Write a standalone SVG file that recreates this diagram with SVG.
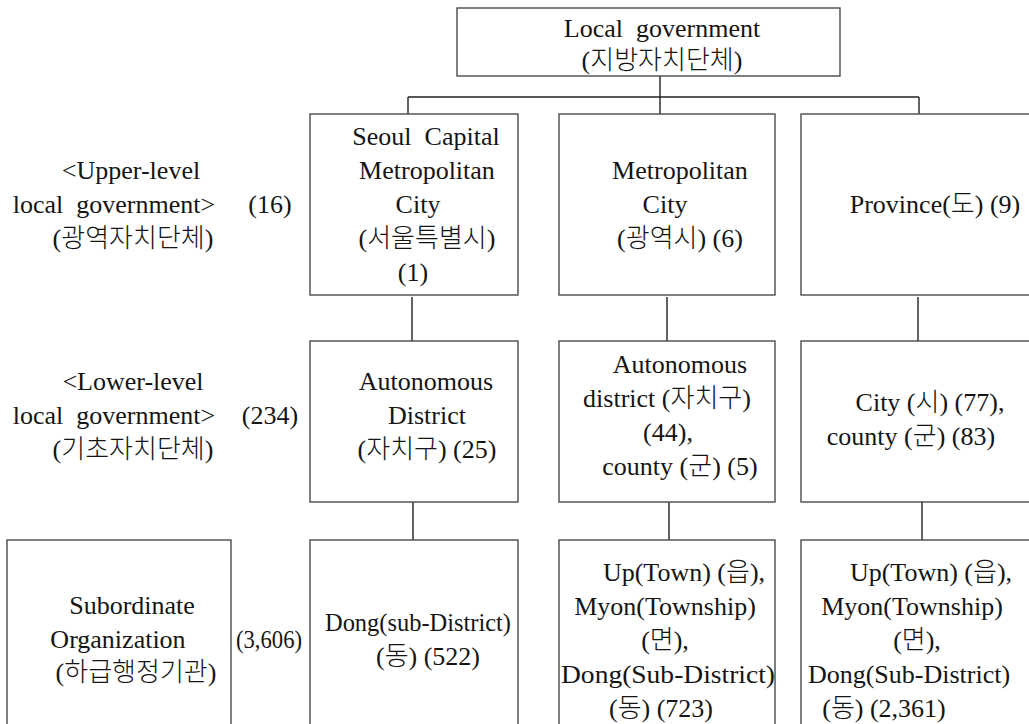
<svg xmlns="http://www.w3.org/2000/svg" width="1029" height="724" viewBox="0 0 1029 724">
<style>
.box{fill:#fff;stroke:#4a4a4a;stroke-width:1.4}
.ln{stroke:#222;stroke-width:1.4;fill:none}
text{font-family:"Liberation Serif","Noto Sans CJK KR",serif;font-size:26px;font-weight:300;fill:#151515;text-anchor:middle;white-space:pre}
</style>
<rect width="1029" height="724" fill="#fff"/>
<g id="connectors">
<path class="ln" d="M660,76V114M408,97H919M408,97V114M919,97V114M412,297V341M667,297V341M918,297V341M413,502V540M669,502V540M922,502V540"/>
</g>
<g id="local-government">
<rect class="box" x="457" y="8" width="383" height="68"/>
<text x="662" y="37" xml:space="preserve">Local  government</text>
<text x="662" y="69">(지방자치단체)</text>
</g>
<g id="upper-label">
<text x="131" y="179">&lt;Upper-level</text>
<text x="114" y="213" xml:space="preserve">local  government&gt;</text>
<text x="270" y="213">(16)</text>
<text x="133" y="247">(광역자치단체)</text>
</g>
<g id="seoul">
<rect class="box" x="310" y="114" width="208" height="181"/>
<text x="426" y="145" xml:space="preserve">Seoul  Capital</text>
<text x="427" y="179">Metropolitan</text>
<text x="418" y="213">City</text>
<text x="427" y="247">(서울특별시)</text>
<text x="413" y="281">(1)</text>
</g>
<g id="metro">
<rect class="box" x="559" y="114" width="216" height="181"/>
<text x="680" y="179">Metropolitan</text>
<text x="665" y="213">City</text>
<text x="680" y="247">(광역시) (6)</text>
</g>
<g id="province">
<rect class="box" x="801" y="114" width="240" height="181"/>
<text x="935" y="213">Province(도) (9)</text>
</g>
<g id="lower-label">
<text x="133" y="390">&lt;Lower-level</text>
<text x="114" y="424" xml:space="preserve">local  government&gt;</text>
<text x="270" y="424">(234)</text>
<text x="133" y="458">(기초자치단체)</text>
</g>
<g id="seoul-district">
<rect class="box" x="310" y="341" width="208" height="161"/>
<text x="426" y="390">Autonomous</text>
<text x="427" y="424">District</text>
<text x="427" y="458">(자치구) (25)</text>
</g>
<g id="metro-district">
<rect class="box" x="559" y="341" width="216" height="161"/>
<text x="680" y="373">Autonomous</text>
<text x="667" y="407">district (자치구)</text>
<text x="668" y="441">(44),</text>
<text x="680" y="475">county (군) (5)</text>
</g>
<g id="province-city">
<rect class="box" x="801" y="341" width="240" height="161"/>
<text x="930" y="411">City (시) (77),</text>
<text x="911" y="445">county (군) (83)</text>
</g>
<g id="subordinate">
<rect class="box" x="7" y="540" width="224" height="200"/>
<text x="132" y="614">Subordinate</text>
<text x="118" y="648">Organization</text>
<text x="136" y="681">(하급행정기관)</text>
<text x="269" y="648" textLength="66" lengthAdjust="spacingAndGlyphs">(3,606)</text>
</g>
<g id="seoul-dong">
<rect class="box" x="310" y="540" width="208" height="200"/>
<text x="418" y="631" textLength="186" lengthAdjust="spacingAndGlyphs">Dong(sub-District)</text>
<text x="428" y="665">(동) (522)</text>
</g>
<g id="metro-dong">
<rect class="box" x="559" y="540" width="216" height="200"/>
<text x="684" y="581">Up(Town) (읍),</text>
<text x="665" y="615">Myon(Township)</text>
<text x="665" y="649">(면),</text>
<text x="668" y="683" textLength="214" lengthAdjust="spacingAndGlyphs">Dong(Sub-District)</text>
<text x="661" y="717">(동) (723)</text>
</g>
<g id="province-dong">
<rect class="box" x="801" y="540" width="240" height="200"/>
<text x="931" y="581">Up(Town) (읍),</text>
<text x="912" y="615">Myon(Township)</text>
<text x="917" y="649">(면),</text>
<text x="909" y="683">Dong(Sub-District)</text>
<text x="884" y="717">(동) (2,361)</text>
</g>
</svg>
